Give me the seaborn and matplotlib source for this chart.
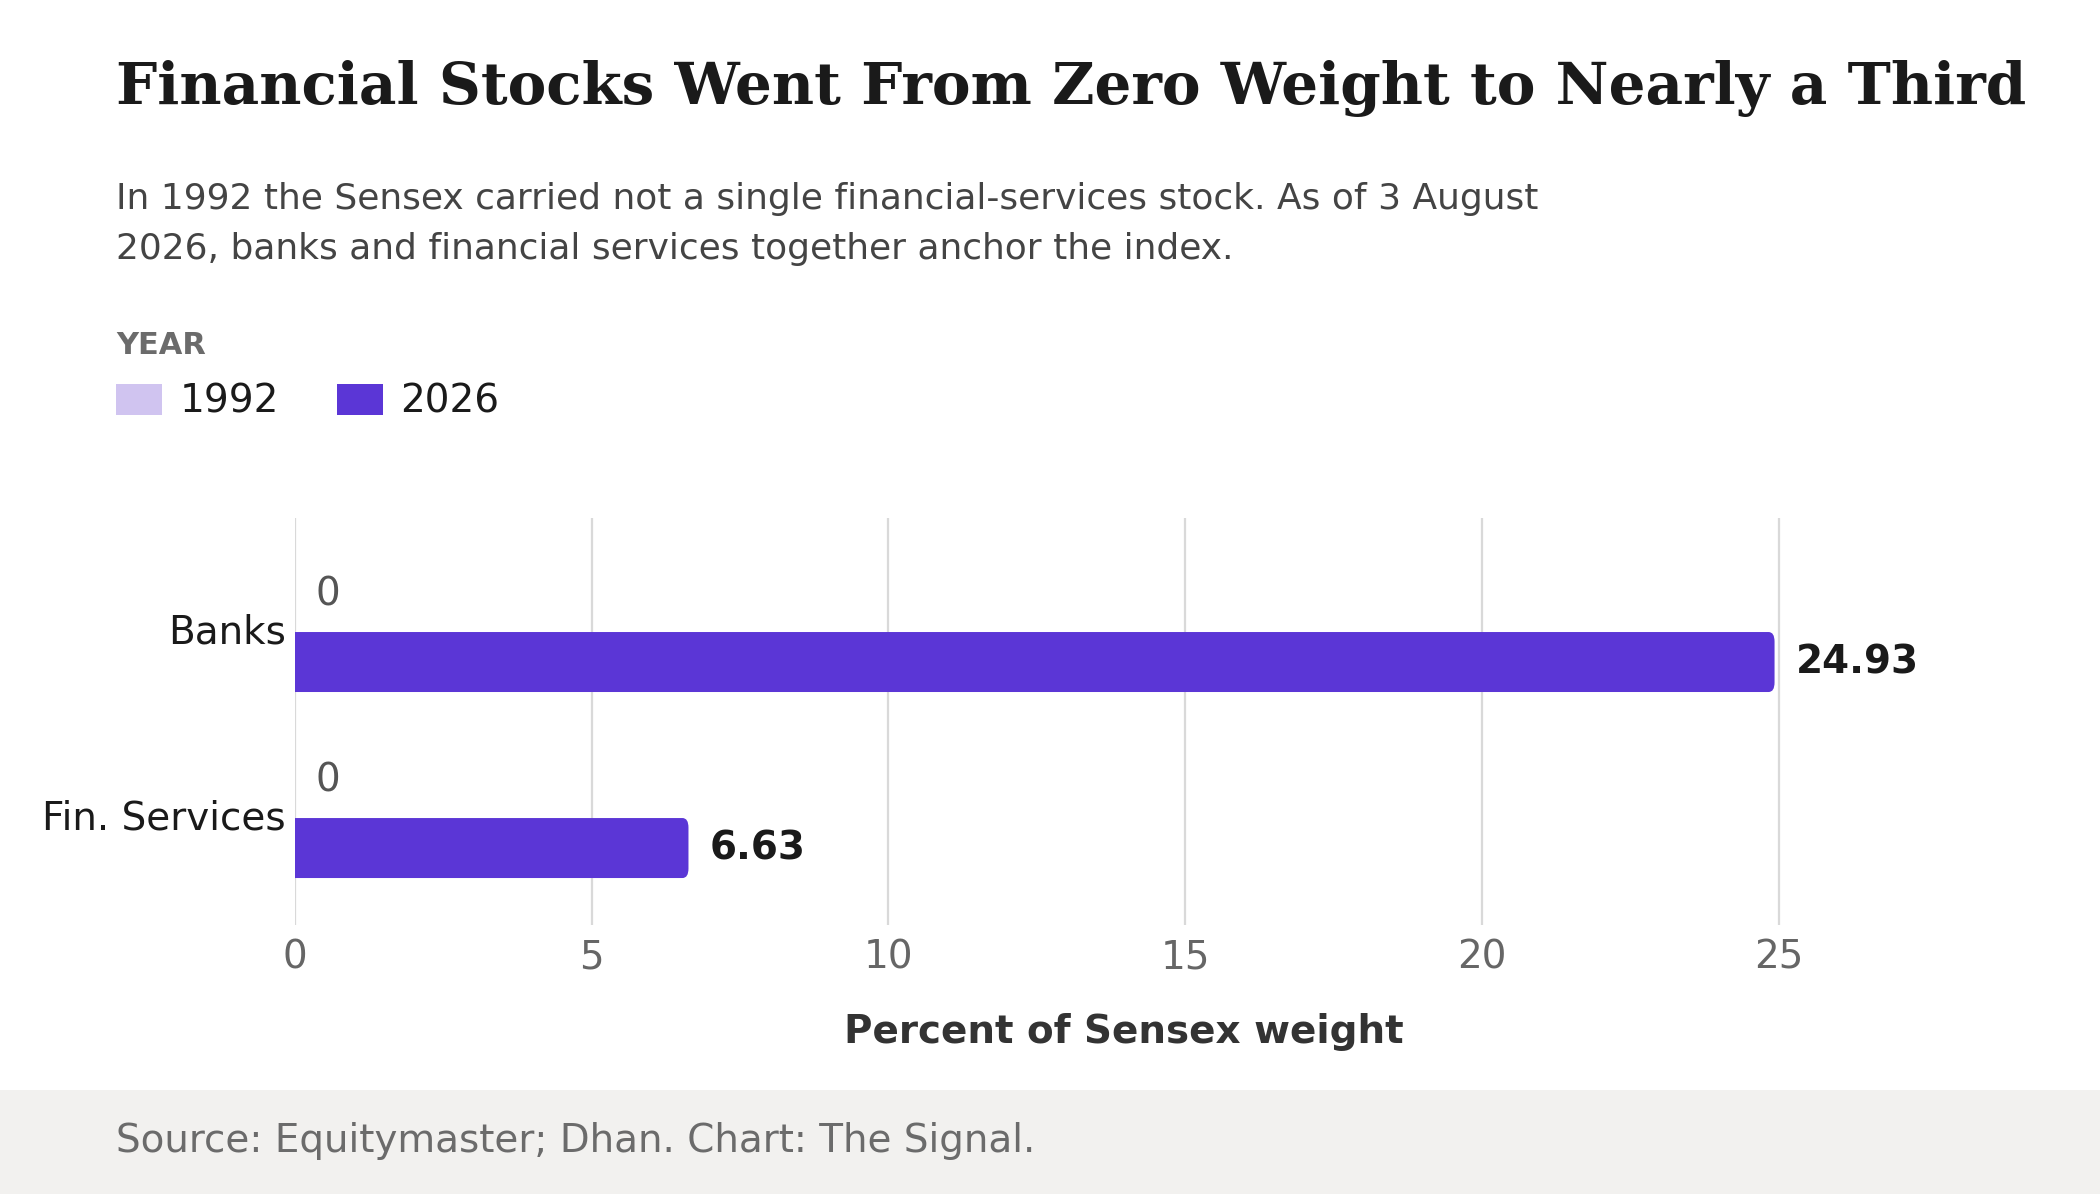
"""
Financial stocks in the Sensex: 1992 vs 2026 weights.
"""

import matplotlib.pyplot as plt
import pandas as pd
import seaborn as sns
from matplotlib.patches import FancyBboxPatch, Rectangle

SECTORS = ["Banks", "Fin. Services"]
YEARS = ["1992", "2026"]
WEIGHT_1992 = [0, 0]
WEIGHT_2026 = [24.93, 6.63]
X_TICKS = [0, 5, 10, 15, 20, 25]

COLORS = {"1992": "#d0c4f0", "2026": "#5b36d6"}

TITLE = "Financial Stocks Went From Zero Weight to Nearly a Third"
SUBTITLE = [
    "In 1992 the Sensex carried not a single financial-services stock. As of 3 August",
    "2026, banks and financial services together anchor the index.",
]
SOURCE = "Source: Equitymaster; Dhan. Chart: The Signal."

W, H, DPI = 2100, 1194, 200


def px_x(x):
    return x / W


def px_y(y):
    return 1 - y / H


def main() -> None:
    df = pd.DataFrame({
        "sector": SECTORS * 2,
        "year": [YEARS[0]] * len(SECTORS) + [YEARS[1]] * len(SECTORS),
        "weight": WEIGHT_1992 + WEIGHT_2026,
    })

    sns.set_theme(style="white")
    plt.rcParams["font.family"] = ["DejaVu Sans"]

    fig = plt.figure(figsize=(W / DPI, H / DPI), dpi=DPI)
    fig.patch.set_facecolor("white")

    # footer band
    fig.patches.append(Rectangle((0, 0), 1, px_y(1090), transform=fig.transFigure,
                                 facecolor="#f2f1ef", edgecolor="none", zorder=0))

    ax = fig.add_axes([px_x(295), px_y(925), 1657 / W, 407 / H])
    sns.barplot(data=df, y="sector", x="weight", hue="year", hue_order=YEARS,
                order=SECTORS, palette=COLORS, width=0.645, orient="h",
                edgecolor="none", linewidth=0, saturation=1, ax=ax)

    legend_handles, legend_labels = ax.get_legend_handles_labels()
    if ax.get_legend() is not None:
        ax.get_legend().remove()

    # swap in bars with a rounded right end
    x_unit = 1657 / 27.92
    y_unit = 407 / 2.188
    for bar in list(ax.patches):
        w = bar.get_width()
        if w <= 0:
            continue
        x0, y0, h = bar.get_x(), bar.get_y(), bar.get_height()
        ext = 0.5
        rounded = FancyBboxPatch(
            (x0 - ext, y0), w + ext, h,
            boxstyle=f"round,pad=0,rounding_size={6 / x_unit}",
            mutation_aspect=1.6 * x_unit / y_unit,
            facecolor=bar.get_facecolor(), edgecolor="none", zorder=3,
        )
        bar.set_visible(False)
        ax.add_patch(rounded)

    ax.set_xlim(0, 27.92)
    ax.set_ylim(1.575, -0.613)
    ax.set_xticks(X_TICKS)
    ax.set_xticklabels([str(t) for t in X_TICKS])
    ax.tick_params(axis="x", length=0, pad=5, labelsize=14, labelcolor="#666666")
    ax.tick_params(axis="y", length=0, pad=3.4, labelsize=14, labelcolor="#1a1a1a")
    for lbl in ax.get_yticklabels():
        lbl.set_verticalalignment("center")
    ax.grid(axis="x", color="#d9d9d9", linewidth=0.8, zorder=0)
    ax.set_axisbelow(True)
    for s in ax.spines.values():
        s.set_visible(False)
    ax.set_ylabel("")
    ax.set_xlabel("Percent of Sensex weight", fontsize=14, fontweight="bold",
                  color="#333333", labelpad=13)

    # value labels
    off = 0.645 / 4
    for i, sector in enumerate(SECTORS):
        ax.annotate(f"{WEIGHT_1992[i]:g}", (WEIGHT_1992[i], i - off),
                    xytext=(7.3, 2.6), textcoords="offset points",
                    ha="left", va="center", fontsize=14, color="#555555")
        ax.annotate(f"{WEIGHT_2026[i]:.2f}", (WEIGHT_2026[i], i + off),
                    xytext=(7.6, 0), textcoords="offset points",
                    ha="left", va="center", fontsize=14, fontweight="bold",
                    color="#1a1a1a")

    # header
    fig.text(px_x(116), px_y(104), TITLE, family="DejaVu Serif", fontweight="bold",
             fontsize=20.9, color="#1a1a1a", va="baseline")
    for k, line in enumerate(SUBTITLE):
        fig.text(px_x(116), px_y(209 + 50 * k), line, fontsize=12.95,
                 color="#444444", va="baseline")
    fig.text(px_x(116), px_y(354), "YEAR", fontsize=11, fontweight="bold",
             color="#6b6b6b", va="baseline")

    fig.legend(legend_handles, legend_labels, loc="center left",
               bbox_to_anchor=(px_x(116), px_y(401.5)), bbox_transform=fig.transFigure,
               ncol=2, frameon=False, fontsize=14, borderpad=0, borderaxespad=0,
               handlelength=1.18, handleheight=0.85, handletextpad=0.45,
               columnspacing=1.49, labelcolor="#1a1a1a")

    fig.text(px_x(116), px_y(1152), SOURCE, fontsize=14, color="#6b6b6b",
             va="baseline")

    fig.savefig("out.png", dpi=DPI, facecolor=fig.get_facecolor())
    plt.close(fig)


if __name__ == "__main__":
    main()
